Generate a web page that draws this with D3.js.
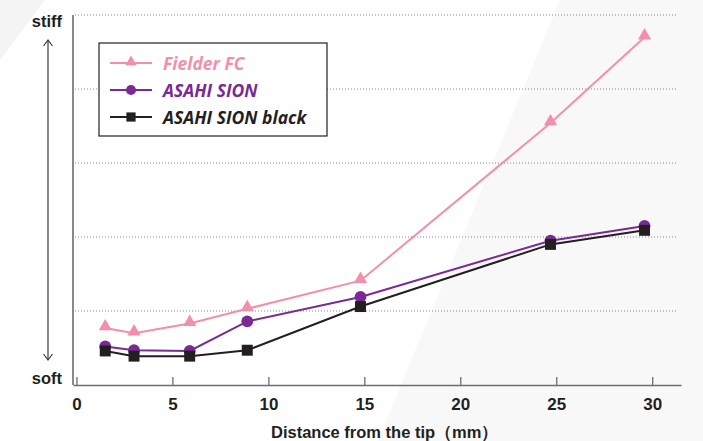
<!DOCTYPE html>
<html>
<head>
<meta charset="utf-8">
<script src="https://cdn.jsdelivr.net/npm/d3@7"></script>
<style>
  body { margin: 0; background: #fff; }
  svg { display: block; }
</style>
</head>
<body>
<div id="chart-area"></div>
<script>
// data
var distance = [1.5, 3, 5.9, 8.9, 14.8, 24.7, 29.6];
var fielderFC = [0.77, 0.70, 0.83, 1.03, 1.41, 3.54, 4.70];
var asahiSion = [0.52, 0.47, 0.46, 0.86, 1.19, 1.95, 2.15];
var asahiSionBlack = [0.46, 0.39, 0.39, 0.47, 1.06, 1.90, 2.09];
var xTicks = [0, 5, 10, 15, 20, 25, 30];
var gridLevels = [1, 2, 3, 4, 5];
var seriesNames = ["Fielder FC", "ASAHI SION", "ASAHI SION black"];

var W = 703, H = 441;
var color = { pink: "#f28fab", purple: "#7a2a96", black: "#231f20" };

var svg = d3.select("#chart-area")
    .append("svg")
        .attr("width", W)
        .attr("height", H);

// faint background shapes
svg.append("rect").attr("width", W).attr("height", H).attr("fill", "#ffffff");
svg.append("path")
    .attr("d", "M560,0 L703,0 L703,441 L378,441 Z")
    .attr("fill", "#f8f8f9");
svg.append("path")
    .attr("d", "M0,0 L45,0 L0,60 Z")
    .attr("fill", "#f4f4f5");

// scales
var xScale = d3.scaleLinear()
    .domain([-0.18, 31.5])
    .range([73, 681]);
var yScale = d3.scaleLinear()
    .domain([0, 5])
    .range([385, 15]);

// dotted grid
svg.append("g")
    .selectAll("line")
    .data(gridLevels)
    .enter().append("line")
        .attr("x1", xScale(-0.18) + 2)
        .attr("x2", 677)
        .attr("y1", function(d) { return yScale(d); })
        .attr("y2", function(d) { return yScale(d); })
        .attr("stroke", "#8a8a8a")
        .attr("stroke-width", 1)
        .attr("stroke-dasharray", "1,2");

// x axis
var xAxisCall = d3.axisBottom(xScale)
    .tickValues(xTicks)
    .tickSizeInner(-8)
    .tickSizeOuter(0)
    .tickPadding(13);
var xAxis = svg.append("g")
    .attr("class", "x axis")
    .attr("transform", "translate(0," + yScale(0) + ")")
    .call(xAxisCall);
xAxis.select(".domain").attr("stroke", "#6d6d6d").attr("stroke-width", 1.6);
xAxis.selectAll(".tick line").attr("stroke", "#6d6d6d").attr("stroke-width", 1.3);
xAxis.selectAll(".tick text")
    .attr("fill", "#231f20")
    .attr("font-family", "'Liberation Sans', Arial, sans-serif")
    .attr("font-weight", "bold")
    .attr("font-size", "17px");

// y axis line (no ticks)
svg.append("line")
    .attr("x1", xScale(-0.18)).attr("x2", xScale(-0.18))
    .attr("y1", yScale(5)).attr("y2", yScale(0))
    .attr("stroke", "#6d6d6d")
    .attr("stroke-width", 1.6);

// stiff / soft labels and arrow
svg.append("text")
    .attr("x", 62).attr("y", 27)
    .attr("text-anchor", "end")
    .attr("font-family", "'Liberation Sans', Arial, sans-serif")
    .attr("font-weight", "bold")
    .attr("font-size", "16.5px")
    .attr("fill", "#231f20")
    .text("stiff");
svg.append("text")
    .attr("x", 62).attr("y", 384)
    .attr("text-anchor", "end")
    .attr("font-family", "'Liberation Sans', Arial, sans-serif")
    .attr("font-weight", "bold")
    .attr("font-size", "16.5px")
    .attr("fill", "#231f20")
    .text("soft");

var arrow = svg.append("g").attr("stroke", "#3a3a3a").attr("stroke-width", 1.2).attr("fill", "none");
arrow.append("line").attr("x1", 48).attr("x2", 48).attr("y1", 40).attr("y2", 360);
arrow.append("path").attr("d", "M43.5,46 L48,40 L52.5,46");
arrow.append("path").attr("d", "M43.5,354 L48,360 L52.5,354");

// x label
svg.append("text")
    .attr("x", 271).attr("y", 438)
    .attr("font-family", "'Liberation Sans', Arial, sans-serif")
    .attr("font-weight", "bold")
    .attr("font-size", "16.5px")
    .attr("fill", "#231f20")
    .text("Distance from the tip\uFF08mm\uFF09");

// lines
var line = d3.line()
    .x(function(d) { return xScale(d[0]); })
    .y(function(d) { return yScale(d[1]); });

function zipData(values) {
    return distance.map(function(x, i) { return [x, values[i]]; });
}

var triangle = d3.symbol().type(d3.symbolTriangle).size(75);
var circleSym = d3.symbol().type(d3.symbolCircle).size(110);
var squareSym = d3.symbol().type(d3.symbolSquare).size(120);

var series = [
    { name: seriesNames[0], data: zipData(fielderFC), color: color.pink, sym: triangle, dy: -1.5 },
    { name: seriesNames[1], data: zipData(asahiSion), color: color.purple, sym: circleSym, dy: 0 },
    { name: seriesNames[2], data: zipData(asahiSionBlack), color: color.black, sym: squareSym, dy: 0 }
];

series.forEach(function(s) {
    svg.append("path")
        .datum(s.data)
        .attr("d", line)
        .attr("fill", "none")
        .attr("stroke", s.color)
        .attr("stroke-width", 2);
    svg.append("g")
        .selectAll("path")
        .data(s.data)
        .enter().append("path")
            .attr("d", s.sym)
            .attr("transform", function(d) {
                return "translate(" + xScale(d[0]) + "," + (yScale(d[1]) + s.dy) + ")";
            })
            .attr("fill", s.color);
});

// legend
var legend = svg.append("g").attr("transform", "translate(99,43)");
legend.append("rect")
    .attr("width", 228).attr("height", 93)
    .attr("fill", "#fff")
    .attr("stroke", "#231f20")
    .attr("stroke-width", 1.2);

var legendSyms = [
    d3.symbol().type(d3.symbolTriangle).size(55),
    d3.symbol().type(d3.symbolCircle).size(80),
    d3.symbol().type(d3.symbolSquare).size(85)
];

series.forEach(function(s, i) {
    var g = legend.append("g").attr("transform", "translate(0," + (20 + i * 27) + ")");
    g.append("line")
        .attr("x1", 11).attr("x2", 53)
        .attr("stroke", s.color)
        .attr("stroke-width", 2);
    g.append("path")
        .attr("d", legendSyms[i])
        .attr("transform", "translate(32," + (i === 0 ? -1 : 0) + ")")
        .attr("fill", s.color);
    g.append("text")
        .attr("x", 64).attr("y", 6.5)
        .attr("font-family", "'Open Sans', sans-serif")
        .attr("font-style", "italic")
        .attr("font-weight", "bold")
        .attr("font-size", "17.5px")
        .attr("fill", s.color)
        .text(s.name);
});
</script>
</body>
</html>
